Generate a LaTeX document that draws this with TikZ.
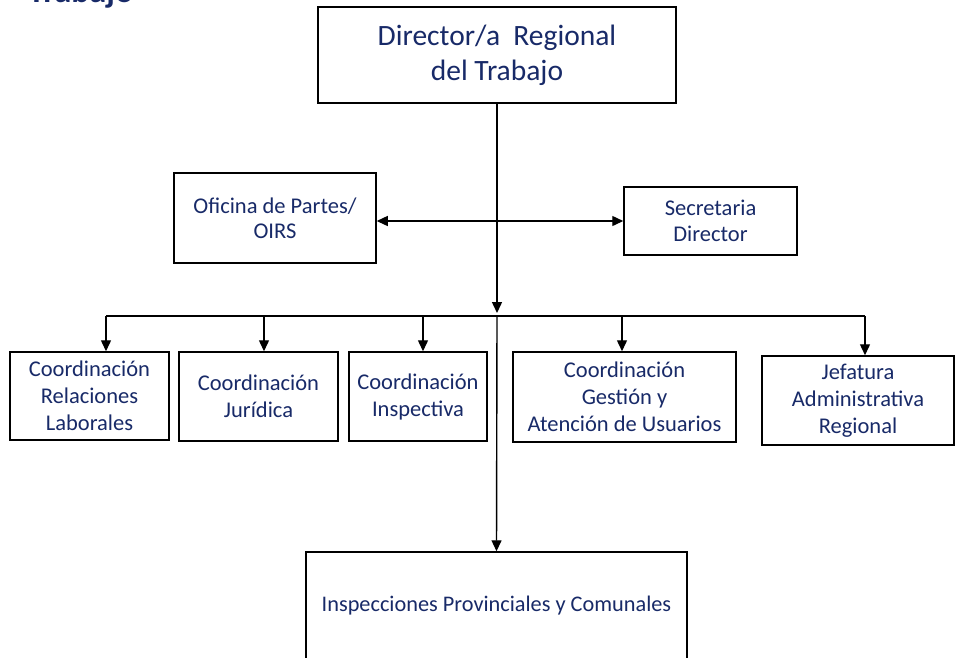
\documentclass[tikz,border=0pt]{standalone}
\usepackage{fontspec}
\setmainfont{Carlito}
\usetikzlibrary{arrows.meta,calc}
\definecolor{navy}{RGB}{24,42,104}
\begin{document}
\begin{tikzpicture}[x=1pt,y=-1pt,
  box/.style={draw=black,line width=1.5pt,fill=white,text=navy,align=center,inner sep=0pt,
    font=\fontsize{22.5}{27}\selectfont},
  arr/.style={line width=1.4pt,-{Triangle[length=11pt,width=10pt]}},
  ln/.style={line width=1.4pt}]
\useasboundingbox (0,0) rectangle (955,657);

\node[anchor=base west,inner sep=0pt,text=navy,font=\bfseries\fontsize{34}{40}\selectfont] (title) at (28,2) {Trabajo};

\node[box,minimum width=358pt,minimum height=96pt,font=\fontsize{29.5}{35}\selectfont] (dir) at (497,55) {Director/a\ \ Regional\\del Trabajo};
\node[box,minimum width=202pt,minimum height=90pt,font=\fontsize{22.5}{25}\selectfont] (ofi) at (275,218) {Oficina de Partes/\\OIRS};
\node[box,minimum width=173pt,minimum height=68pt,font=\fontsize{22.5}{26}\selectfont] (sec) at (710.5,221) {Secretaria\\Director};

\node[box,minimum width=159pt,minimum height=88pt] (rel) at (89.5,396) {Coordinación\\Relaciones\\Laborales};
\node[box,minimum width=159pt,minimum height=89pt] (jur) at (258.5,396.5) {Coordinación\\Jurídica};
\node[box,minimum width=138pt,minimum height=89pt] (ins) at (418,396.5) {Coordinación\\Inspectiva};
\node[box,minimum width=223pt,minimum height=90pt] (ges) at (624.5,397) {Coordinación\\Gestión y\\Atención de Usuarios};
\node[box,minimum width=192pt,minimum height=89pt] (jef) at (858,400.5) {Jefatura\\Administrativa\\Regional};

\node[box,minimum width=381pt,minimum height=108pt,font=\fontsize{22.3}{26}\selectfont] (prov) at (496.5,606) {Inspecciones Provinciales y Comunales};

% connectors
\coordinate (hub) at (497,316);
\coordinate (tip) at (497,313);
\coordinate (a1) at (106,316);
\coordinate (a2) at (264,316);
\coordinate (a3) at (423,316);
\coordinate (a4) at (622,316);
\coordinate (a5) at (865,316);

\draw[arr] (dir.south) -- (tip);
\draw[ln] (a1) -- (a5);
\draw[arr] (hub) -- (prov.north);
\draw[line width=1.4pt,{Triangle[length=11pt,width=10pt]}-{Triangle[length=11pt,width=10pt]}] (ofi.east |- sec.west) -- (sec.west);
\draw[arr] (a1) -- (a1 |- rel.north);
\draw[arr] (a2) -- (a2 |- jur.north);
\draw[arr] (a3) -- (a3 |- ins.north);
\draw[arr] (a4) -- (a4 |- ges.north);
\draw[arr] (a5) -- (a5 |- jef.north);
\end{tikzpicture}
\end{document}
